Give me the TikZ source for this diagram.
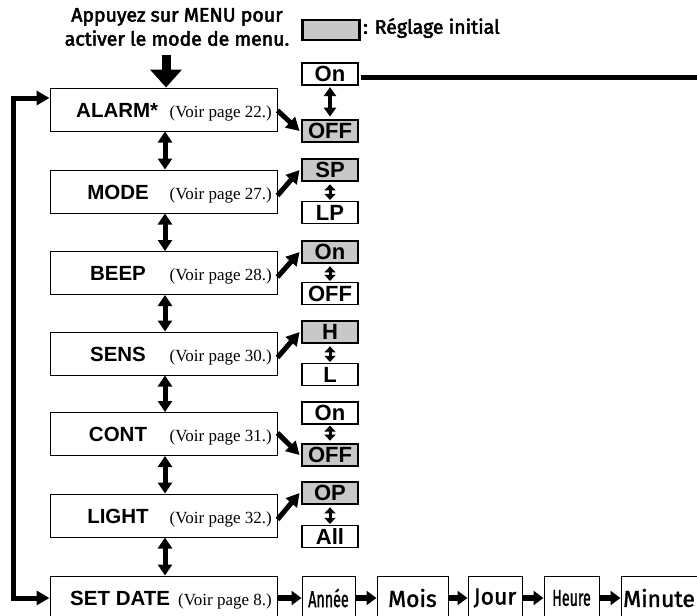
\documentclass[tikz,border=0pt]{standalone}
\usepackage{fontspec}
\setmainfont{Liberation Sans}
\newfontfamily\serifref{Liberation Serif}
\newfontfamily\frut[FakeBold=2.6]{Fira Sans}
\newfontfamily\frutreg[FakeBold=1.6]{Fira Sans}
\usepackage{graphicx}
\usetikzlibrary{arrows.meta}
\definecolor{defgray}{RGB}{200,200,200}
\begin{document}
\begin{tikzpicture}[x=1pt,y=-1pt,line join=miter,
  mainbox/.style={draw, line width=1pt, minimum width=227pt, minimum height=43pt, inner sep=0pt},
  mainlbl/.style={inner sep=0pt, font=\fontsize{20.5}{20}\selectfont\bfseries},
  reflbl/.style={inner sep=0pt, anchor=base east, font=\fontsize{17}{17}\selectfont\serifref},
  optbox/.style={draw, line width=1.2pt, minimum width=56pt, minimum height=22pt, inner sep=0pt,
     font=\fontsize{22}{22}\selectfont\bfseries},
  defbox/.style={optbox, line width=2.8pt, fill=defgray},
  rowbox/.style={draw, line width=1pt, minimum height=44pt, inner sep=0pt},
  frtxt/.style={inner sep=0pt, font=\fontsize{19.5}{24}\selectfont\frut},
  vdbl/.style={line width=5pt, {Triangle[length=11pt,width=14pt]}-{Triangle[length=11pt,width=14pt]}},
  odbl/.style={line width=3pt, {Triangle[length=6pt,width=11pt]}-{Triangle[length=6pt,width=11pt]}},
  adbl/.style={line width=4pt, {Triangle[length=9pt,width=12pt]}-{Triangle[length=9pt,width=12pt]}},
  diag/.style={line width=5pt, -{Triangle[length=13pt,width=14pt]}},
  harr/.style={line width=6pt, -{Triangle[length=10pt,width=14pt]}},
  looparr/.style={line width=5pt, {Triangle[length=13pt,width=14pt]}-{Triangle[length=13pt,width=14pt]}},
  bigdown/.style={line width=9pt, -{Triangle[length=18pt,width=31pt]}}
]
\clip (0,0) rectangle (697,616);
\fill[white] (0,0) rectangle (697,616);

% top text and legend
\node[frtxt, align=center] (intro) at (177,27) {Appuyez sur MENU pour\\activer le mode de menu.};
\node[defbox, minimum width=57pt, minimum height=20pt] (legbox) at (331,30) {};
\node[frtxt, anchor=west] (legtxt) at (363,28) {: Réglage initial};

% main boxes
\node[mainbox] (alarm) at (163.5,109.5) {};
\node[mainbox] (mode) at (163.5,191.5) {};
\node[mainbox] (beep) at (163.5,273) {};
\node[mainbox] (sens) at (163.5,353.5) {};
\node[mainbox] (cont) at (163.5,434) {};
\node[mainbox] (light) at (163.5,515.5) {};
\node[mainbox, minimum height=44pt] (setdate) at (163.5,598) {};

% main labels
\node[mainlbl, anchor=base west] (alarmt) at (76,117) {ALARM*};
\node[mainlbl, anchor=base] (modet) at (118,199) {MODE};
\node[mainlbl, anchor=base] (beept) at (118,280.5) {BEEP};
\node[mainlbl, anchor=base] (senst) at (118,361) {SENS};
\node[mainlbl, anchor=base] (contt) at (118,441.5) {CONT};
\node[mainlbl, anchor=base] (lightt) at (118,523) {LIGHT};
\node[mainlbl, anchor=base west] (setdatet) at (70,605.5) {SET DATE};

\node[reflbl] (alarmr) at (272,117) {(Voir page 22.)};
\node[reflbl] (moder) at (272,199) {(Voir page 27.)};
\node[reflbl] (beepr) at (272,280.5) {(Voir page 28.)};
\node[reflbl] (sensr) at (272,361) {(Voir page 30.)};
\node[reflbl] (contr) at (272,441.5) {(Voir page 31.)};
\node[reflbl] (lightr) at (272,523) {(Voir page 32.)};
\node[reflbl] (setdater) at (272,605.5) {(Voir page 8.)};

% option boxes
\node[optbox] (aon) at (330,74) {On};
\node[defbox] (aoff) at (330,131) {OFF};
\node[defbox] (msp) at (330,170) {SP};
\node[optbox] (mlp) at (330,212.5) {LP};
\node[defbox] (bon) at (330,252) {On};
\node[optbox] (boff) at (330,293.5) {OFF};
\node[defbox] (sh) at (330,332) {H};
\node[optbox] (sl) at (330,374.5) {L};
\node[optbox] (con) at (330,413) {On};
\node[defbox] (coff) at (330,455) {OFF};
\node[defbox] (lop) at (330,493) {OP};
\node[optbox] (lall) at (330,536.5) {All};

% bottom row
\node[rowbox, minimum width=53pt, font=\fontsize{23}{23}\selectfont\frutreg] (annee) at (328.5,598) {\scalebox{0.62}[1]{Année}};
\node[rowbox, minimum width=71pt, font=\fontsize{23}{23}\selectfont\frutreg] (mois) at (412.5,598) {Mois};
\node[rowbox, minimum width=54pt, font=\fontsize{23}{23}\selectfont\frutreg] (jour) at (495,598) {Jour};
\node[rowbox, minimum width=55pt, font=\fontsize{23}{23}\selectfont\frutreg] (heure) at (571.5,598) {\scalebox{0.62}[1]{Heure}};
\node[rowbox, minimum width=89pt] (minute) at (665.5,598) {};
\node[inner sep=0pt, anchor=west, font=\fontsize{23}{23}\selectfont\frutreg] (minutet) at (623,598) {Minute};

% top arrow
\coordinate (topstart) at (166,55);
\draw[bigdown] (topstart) -- (topstart |- alarm.north);

% vertical double arrows between main boxes
\draw[vdbl] ([xshift=1.5pt]alarm.south) -- ([xshift=1.5pt]mode.north);
\draw[vdbl] ([xshift=1.5pt]mode.south) -- ([xshift=1.5pt]beep.north);
\draw[vdbl] ([xshift=1.5pt]beep.south) -- ([xshift=1.5pt]sens.north);
\draw[vdbl] ([xshift=1.5pt]sens.south) -- ([xshift=1.5pt]cont.north);
\draw[vdbl] ([xshift=1.5pt]cont.south) -- ([xshift=1.5pt]light.north);
\draw[vdbl] ([xshift=1.5pt]light.south) -- ([xshift=1.5pt]setdate.north);

% option double arrows
\draw[adbl] ([yshift=-1.5pt]aon.south) -- ([yshift=2pt]aoff.north);
\draw[odbl] ([yshift=-2pt]msp.south) -- ([yshift=1pt]mlp.north);
\draw[odbl] ([yshift=-2pt]bon.south) -- ([yshift=1pt]boff.north);
\draw[odbl] ([yshift=-2pt]sh.south) -- ([yshift=1pt]sl.north);
\draw[odbl] ([yshift=-1pt]con.south) -- ([yshift=2pt]coff.north);
\draw[odbl] ([yshift=-2pt]lop.south) -- ([yshift=1pt]lall.north);

% diagonal arrows
\draw[diag] ([yshift=-1pt]alarm.east) -- ([xshift=-1pt]aoff.west);
\draw[diag] ([yshift=-4pt]mode.east) -- ([xshift=-1pt]msp.west);
\draw[diag] ([yshift=-4pt]beep.east) -- ([xshift=-1pt]bon.west);
\draw[diag] ([yshift=-4pt]sens.east) -- ([xshift=-1pt]sh.west);
\draw[diag] ([yshift=1pt]cont.east) -- ([xshift=-1pt]coff.west);
\draw[diag] ([yshift=-4pt]light.east) -- ([xshift=-1pt]lop.west);

% line to the right from ALARM On
\coordinate (rightend) at (702,77);
\draw[line width=5pt] ([xshift=2pt,yshift=-3pt]aon.east) -- (rightend);

% bottom row arrows
\draw[harr] (setdate.east) -- (annee.west);
\draw[harr] (annee.east) -- (mois.west);
\draw[harr] (mois.east) -- (jour.west);
\draw[harr] (jour.east) -- (heure.west);
\draw[harr] (heure.east) -- (minute.west);

% loop
\coordinate (lt) at (13,98);
\coordinate (lb) at (13,598);
\draw[looparr] (alarm.west |- lt) -- (lt) -- (lb) -- (setdate.west |- lb);
\end{tikzpicture}
\end{document}
